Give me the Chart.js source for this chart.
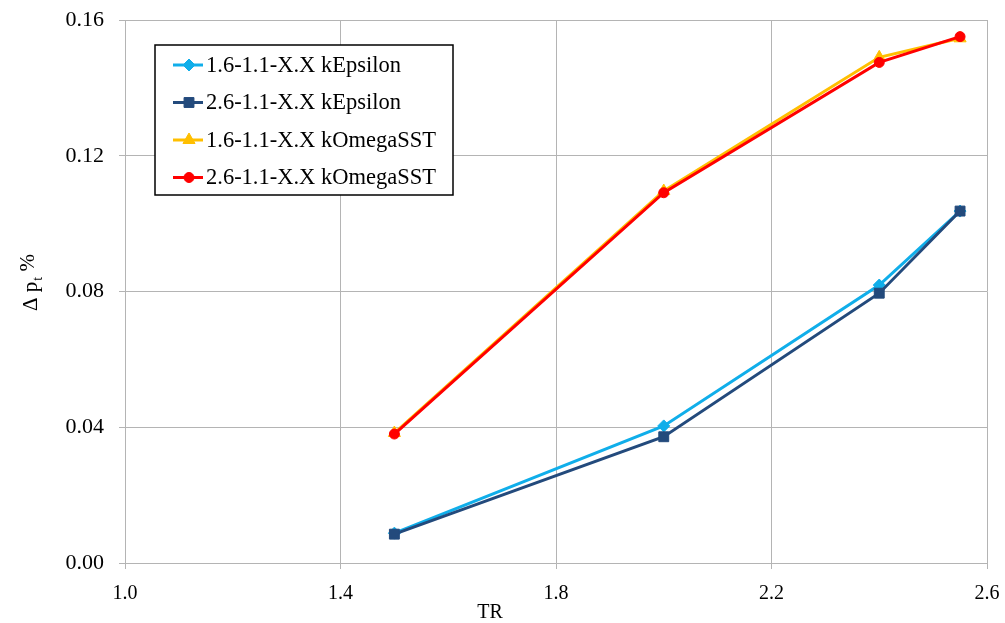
<!DOCTYPE html>
<html>
<head>
<meta charset="utf-8">
<script src="https://cdn.jsdelivr.net/npm/chart.js@4"></script>
<style>
  html, body { margin: 0; padding: 0; background: #fff; }
  #wrap { width: 1005px; height: 623px; }
</style>
</head>
<body>
<div id="wrap"><canvas id="dpChart" width="1005" height="623"></canvas></div>
<script>
// TR values and pressure-loss results per mesh / turbulence model
const trValues = [1.5, 2.0, 2.4, 2.55];
const eps16 = [0.0088, 0.0404, 0.0819, 0.1037];
const eps26 = [0.0085, 0.0372, 0.0795, 0.1037];
const omega16 = [0.0383, 0.1096, 0.1490, 0.1546];
const omega26 = [0.0380, 0.1091, 0.1475, 0.1551];
const seriesNames = [
    '1.6-1.1-X.X kEpsilon',
    '2.6-1.1-X.X kEpsilon',
    '1.6-1.1-X.X kOmegaSST',
    '2.6-1.1-X.X kOmegaSST'
];
const xTicks = [1.0, 1.4, 1.8, 2.2, 2.6];
const yTicks = [0.00, 0.04, 0.08, 0.12, 0.16];

const FONT = "'Liberation Serif', 'DejaVu Serif', serif";
const GRID = '#b4b4b4';

function toPoints(ys) {
    return trValues.map((x, i) => ({ x: x, y: ys[i] }));
}

function series(label, ys, color, style, radius, order) {
    return {
        label: label,
        data: toPoints(ys),
        borderColor: color,
        backgroundColor: color,
        borderWidth: 3,
        pointStyle: style,
        pointRadius: radius,
        pointBorderWidth: 1,
        pointBorderColor: color,
        pointBackgroundColor: color,
        tension: 0,
        order: order
    };
}

// legend box in the upper left of the plot, with line + marker samples
const boxLegend = {
    id: 'boxLegend',
    afterDraw(chart) {
        const ctx = chart.ctx;
        const area = chart.chartArea;
        const x0 = area.left + 30, y0 = area.top + 25;
        const w = 298, h = 150;
        ctx.save();
        ctx.fillStyle = '#fff';
        ctx.fillRect(x0, y0, w, h);
        ctx.strokeStyle = '#000';
        ctx.lineWidth = 1.5;
        ctx.strokeRect(x0, y0, w, h);
        ctx.font = '22.5px ' + FONT;
        ctx.textBaseline = 'middle';
        ctx.fillStyle = '#000';
        chart.data.datasets.forEach((ds, i) => {
            const cy = y0 + 20 + i * 37.5;
            ctx.strokeStyle = ds.borderColor;
            ctx.lineWidth = 3;
            ctx.beginPath();
            ctx.moveTo(x0 + 18, cy);
            ctx.lineTo(x0 + 48, cy);
            ctx.stroke();
            ctx.fillStyle = ds.pointBackgroundColor;
            ctx.strokeStyle = ds.pointBorderColor;
            ctx.lineWidth = 1;
            Chart.helpers.drawPoint(ctx, {
                pointStyle: ds.pointStyle,
                radius: ds.pointRadius,
                rotation: 0,
                borderWidth: 1
            }, x0 + 34, cy);
            ctx.fillStyle = '#000';
            ctx.fillText(ds.label, x0 + 51, cy + 1);
        });
        ctx.restore();
    }
};

// axis titles: rotated "Δ p_t %" with a subscript, and "TR" under the x axis
const axisTitles = {
    id: 'axisTitles',
    afterDraw(chart) {
        const ctx = chart.ctx;
        ctx.save();
        ctx.fillStyle = '#000';
        ctx.textBaseline = 'alphabetic';

        ctx.font = '20px ' + FONT;
        ctx.textAlign = 'center';
        ctx.fillText('TR', 490, 618);

        ctx.translate(37, 283);
        ctx.rotate(-Math.PI / 2);
        ctx.textAlign = 'left';
        const big = '21px ' + FONT, small = '14px ' + FONT;
        ctx.font = big;
        const w1 = ctx.measureText('Δ p').width;
        const w3 = ctx.measureText(' %').width;
        ctx.font = small;
        const w2 = ctx.measureText('t').width;
        let x = -(w1 + w2 + w3) / 2;
        ctx.font = big;
        ctx.fillText('Δ p', x, 0);
        x += w1;
        ctx.font = small;
        ctx.fillText('t', x + 1, 5);
        x += w2 + 1;
        ctx.font = big;
        ctx.fillText(' %', x, -3);
        ctx.restore();
    }
};

const ctx = document.getElementById('dpChart').getContext('2d');
new Chart(ctx, {
    type: 'line',
    data: {
        datasets: [
            series(seriesNames[0], eps16, '#10aeea', 'rectRot', 6, 4),
            series(seriesNames[1], eps26, '#234a7c', 'rect', 7, 3),
            series(seriesNames[2], omega16, '#ffbf00', 'triangle', 7, 2),
            series(seriesNames[3], omega26, '#ff0000', 'circle', 5, 1)
        ]
    },
    options: {
        responsive: false,
        animation: false,
        layout: { padding: { top: 20, right: 18, left: 0, bottom: 0 } },
        plugins: {
            legend: { display: false },
            tooltip: { enabled: false }
        },
        scales: {
            x: {
                type: 'linear',
                min: 1.0,
                max: 2.6,
                afterBuildTicks: (scale) => { scale.ticks = xTicks.map(v => ({ value: v })); },
                afterFit: (scale) => {
                    scale.height = 60;
                    scale.paddingLeft = 0;
                    scale.paddingRight = 0;
                },
                grid: { color: GRID, lineWidth: 1, tickLength: 6 },
                border: { color: GRID, width: 1 },
                ticks: {
                    color: '#000',
                    padding: 13,
                    font: { family: FONT, size: 20 },
                    callback: (v) => Number(v).toFixed(1)
                }
            },
            y: {
                type: 'linear',
                min: 0,
                max: 0.16,
                afterBuildTicks: (scale) => { scale.ticks = yTicks.map(v => ({ value: v })); },
                afterFit: (scale) => {
                    scale.width = 125;
                    scale.paddingTop = 0;
                    scale.paddingBottom = 0;
                },
                grid: { color: GRID, lineWidth: 1, tickLength: 6 },
                border: { color: GRID, width: 1 },
                ticks: {
                    color: '#000',
                    padding: 15,
                    font: { family: FONT, size: 22 },
                    callback: (v) => Number(v).toFixed(2)
                }
            }
        }
    },
    plugins: [boxLegend, axisTitles]
});
</script>
</body>
</html>
